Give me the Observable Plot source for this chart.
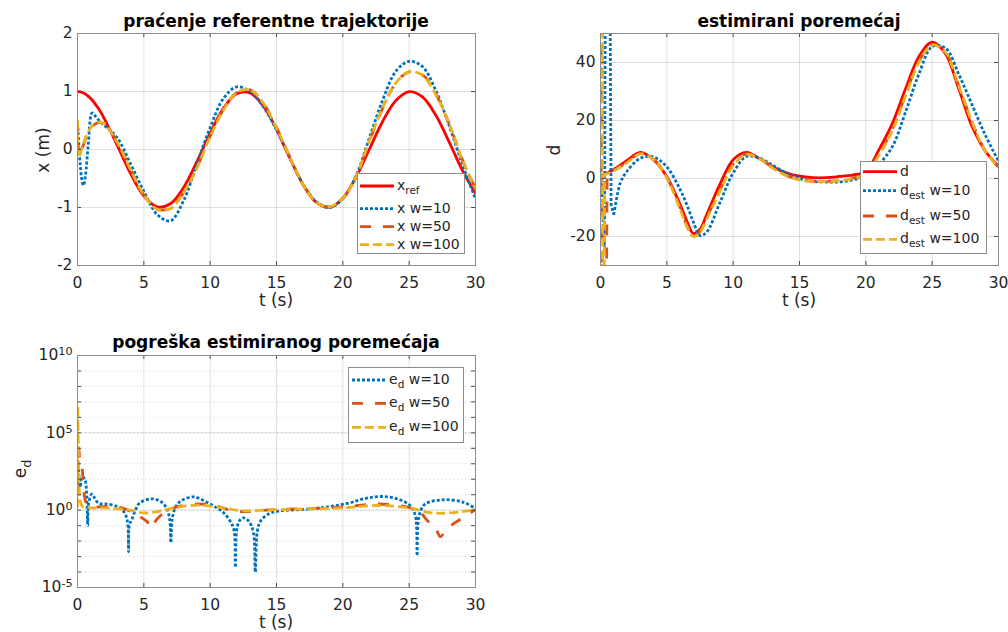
<!DOCTYPE html>
<html><head><meta charset="utf-8">
<script src="https://cdn.jsdelivr.net/npm/d3@7"></script>
<script src="https://cdn.jsdelivr.net/npm/@observablehq/plot@0.6"></script>
<style>
body{margin:0;background:#fff;}
#root{position:relative;width:1008px;height:632px;font-family:"DejaVu Sans",sans-serif;color:#262626;overflow:hidden;background:#fff}
.abs{position:absolute;white-space:nowrap}
.title{font-weight:bold;font-size:17px;color:#000;transform:translate(-50%,-50%)}
.lab{font-size:17px;transform:translate(-50%,-50%)}
.ylab{font-size:17px;transform:translate(-50%,-50%) rotate(-90deg)}
.legend{position:absolute;background:#fff;border:1px solid #8c8c8c;box-sizing:border-box}
.lt{position:absolute;font-size:14px;line-height:14px;white-space:nowrap;color:#262626}
sub{font-size:0.75em;vertical-align:-0.4em;line-height:0}
</style></head><body><div id="root"></div><script>
// ---------- data ----------
const tTicks = [0, 5, 10, 15, 20, 25, 30];

// panel 1: x tracking
const t1 = [0,0.05,0.1,0.2,0.3,0.45,0.6,0.8,1.1,1.4,1.7,2,3,4,5,6,7,8,9,10,11,12,13,14,15,16,17,18,19,20,21,22,23,24,25,26,27,28,29,30];
const xRef = [1,1.0,0.999,0.995,0.989,0.975,0.955,0.921,0.853,0.765,0.664,0.540,0.071,-0.416,-0.801,-0.990,-0.936,-0.654,-0.211,0.284,0.709,0.960,0.977,0.754,0.347,-0.146,-0.602,-0.911,-0.997,-0.839,-0.476,0.004,0.483,0.844,0.998,0.907,0.594,0.136,-0.355,-0.760];
const xW10 = [0.47,0.3,0.1,-0.25,-0.48,-0.62,-0.45,0.05,0.63,0.56,0.48,0.42,0.2,-0.25,-0.72,-1.12,-1.23,-0.88,-0.25,0.38,0.88,1.08,1.0,0.74,0.34,-0.14,-0.6,-0.9,-1.0,-0.85,-0.45,0.2,0.85,1.35,1.52,1.43,1.02,0.42,-0.25,-0.85];
const xW50 = [0.5,0.05,-0.12,-0.1,-0.02,0.08,0.18,0.28,0.4,0.45,0.47,0.45,0.13,-0.34,-0.78,-1.03,-1.01,-0.74,-0.31,0.23,0.69,0.98,1.03,0.8,0.38,-0.13,-0.6,-0.91,-0.99,-0.84,-0.47,0.14,0.71,1.15,1.34,1.29,0.96,0.45,-0.17,-0.67];
const xW100 = [0.5,-0.1,-0.14,-0.08,0.0,0.1,0.2,0.3,0.41,0.46,0.47,0.45,0.12,-0.35,-0.78,-1.03,-1.02,-0.74,-0.32,0.22,0.68,0.98,1.03,0.8,0.37,-0.13,-0.6,-0.91,-0.99,-0.84,-0.47,0.15,0.72,1.15,1.34,1.28,0.95,0.45,-0.18,-0.67];
const xTicksY = [-2, -1, 0, 1, 2];

// panel 2: disturbance
const t2 = [0,0.1,0.2,0.3,0.4,0.5,0.6,0.7,0.8,1,1.5,2,3,4,5,6,6.5,7,7.5,8,9,10,11,12,13,14,15,16,17,18,19,20,21,22,23,24,25,26,27,28,29,30];
const dRef = [1.0,1.2,1.4,1.6,1.7,1.9,2.1,2.4,2.6,3.1,4.6,6.2,9.0,6.5,0.6,-9,-14.6,-19,-17.5,-12.5,-2,6.5,9,6.8,4,2,0.8,0.3,0.3,0.7,1.2,2.5,10,19,31,42,47,43,31,18,9.5,4.2];
const dW10 = [5,-5,-15,-26,120,400,300,80,-9,-12.5,-1.5,2.5,7,7.4,4,-3.8,-9,-15,-19.7,-18.5,-8.3,1.9,7.6,7,4.5,1.8,0,-1,-1.2,-1.2,-0.5,1,5,11,23,36,45.5,45,36,25.5,15,6];
const dW50 = [300,-200,-300,-200,-80,1.5,1.8,2.0,2.3,2.8,4.1,5.6,8.6,6.6,0.3,-10,-16,-19.8,-18.3,-13.5,-4,5,8.5,6.9,3.6,1.1,-0.4,-0.9,-0.9,-0.7,0.1,1.6,8.5,17,29,40.5,46.2,43.5,32,19.5,9.5,3.9];
const dW100 = [400,600,-400,1.4,1.5,1.6,1.8,2.0,2.2,2.7,4.0,5.5,8.5,6.6,0.2,-10.5,-16.5,-20,-18.5,-14,-4.5,4.5,8.3,6.8,3.5,1,-0.5,-1,-1,-0.8,0,1.5,8.2,16.5,28.5,40,46,43.5,32,19.5,9.5,3.8];
const dTicksY = [-20, 0, 20, 40];

// panel 3: estimation error (log)
const tE10 = [0,0.05,0.2,0.35,0.55,0.7,0.77,0.85,1.08,1.3,1.6,2.2,3.0,3.4,3.65,3.8,3.85,3.9,4.1,4.4,4.7,5.6,6.3,6.7,6.95,7.04,7.13,7.4,7.8,8.75,9.75,10.5,11.0,11.5,11.8,11.9,12.0,12.2,12.5,12.9,13.25,13.4,13.55,13.8,14.5,15.3,17.8,20.3,21.8,23.1,24.3,25.1,25.45,25.55,25.6,25.65,25.8,26.2,27.6,29.1,30];
const eW10 = [10,630,30,150,100,8,0.1,3,11,6,2.7,2.5,1.7,1.0,0.45,0.1,0.0021,0.1,0.25,1.2,3.0,5.4,3.5,1.4,0.25,0.008,0.25,1.6,4,7.2,3.2,1.4,0.7,0.2,0.05,0.0002,0.05,0.2,0.32,0.2,0.04,0.0001,0.04,0.2,0.63,0.9,1.26,2.7,6,7.6,4.7,1.9,0.5,0.1,0.0011,0.1,0.63,2.5,4.7,3.2,1.26];
const tE50 = [0,0.03,0.1,0.2,0.33,0.45,0.6,0.8,1.5,2.5,3.5,4.3,4.9,5.3,5.55,5.8,6.2,6.8,7.5,9,10.5,11.5,12.5,13.5,15,17.5,20,22.5,24.5,25.7,26.4,26.97,27.35,27.72,28.4,29.1,30];
const eW50 = [10,1600,11000,1000,575,29,4,2,1.6,1.8,1.26,0.6,0.3,0.16,0.068,0.16,0.4,1.0,1.6,2.5,1.8,1.0,0.8,0.9,1.1,1.26,1.6,2.5,1.8,0.9,0.2,0.076,0.019,0.046,0.145,0.34,1.1];
const tE100 = [0,0.02,0.05,0.08,0.12,0.2,0.4,1,2,3,4,5,6,7,9,11,12.5,14,17,20,22.5,25,26.5,27.5,29,30];
const eW100 = [1.6,5.6e6,1e5,1000,32,4,1.6,1.4,1.4,1.26,1.0,0.66,0.8,1.26,2.1,1.4,0.9,1.0,1.2,1.4,2.0,1.4,0.7,0.63,0.8,1.15];
const eTicksY = [1e-5, 1, 1e5, 1e10];
const eTickLabels = ["10^-5", "10^0", "10^5", "10^10"];
const eDecades = [1e-5,1e-4,1e-3,1e-2,1e-1,1,1e1,1e2,1e3,1e4,1e5,1e6,1e7,1e8,1e9,1e10];

// ---------- styles ----------
const RED = "#ff0000", BLUE = "#0072bd", ORANGE = "#d95319", YELLOW = "#edb120";
const DASH = {solid: null, dot: "3,2", dash: "11,12", dashdot: "9,4"};
const NS = "http://www.w3.org/2000/svg";

const root = document.getElementById("root");
function addDiv(cls, html, x, y) {
  const d = document.createElement("div");
  d.className = "abs " + cls; d.innerHTML = html;
  d.style.left = x + "px"; d.style.top = y + "px";
  root.appendChild(d);
}
const rows = (t, v) => t.map((tt, i) => ({t: tt, v: v[i]}));

function panel(o) {
  const fw = o.width - o.ml - o.mr, fh = o.height - o.mt - o.mb;
  const tickCol = "#4d4d4d";
  const marks = [
    Plot.ruleX(o.xTicks, {x: d => d, stroke: "#000", strokeOpacity: 0.12}),
  ];
  if (o.yMinor) marks.push(Plot.ruleY(o.yMinor, {y: d => d, stroke: "#000", strokeOpacity: 0.18, strokeDasharray: "1,3"}));
  marks.push(Plot.ruleY(o.yTicks, {y: d => d, stroke: "#000", strokeOpacity: 0.12}));
  for (const s of o.series) {
    const data = rows(s.t, s.v);
    const style = {
      x: "t", y: "v", stroke: s.color, strokeWidth: 2.8,
      strokeDasharray: DASH[s.dash], strokeLinecap: "butt", strokeLinejoin: "round", clip: true
    };
    if (o.splitAt != null) {
      marks.push(Plot.line(data.filter(d => d.t <= o.splitAt), {...style, curve: "linear"}));
      marks.push(Plot.line(data.filter(d => d.t >= o.splitAt), {...style, curve: "catmull-rom"}));
    } else {
      marks.push(Plot.line(data, {...style, curve: "catmull-rom"}));
    }
  }
  const yt = o.yMinor || o.yTicks;
  marks.push(
    Plot.tickX(o.xTicks, {x: d => d, insetTop: fh - 4, stroke: tickCol}),
    Plot.tickX(o.xTicks, {x: d => d, insetBottom: fh - 4, stroke: tickCol}),
    Plot.tickY(yt, {y: d => d, insetRight: fw - 4, stroke: tickCol}),
    Plot.tickY(yt, {y: d => d, insetLeft: fw - 4, stroke: tickCol}),
    Plot.frame({stroke: "#8c8c8c"})
  );
  const svg = Plot.plot({
    width: o.width, height: o.height,
    marginLeft: o.ml, marginRight: o.mr, marginTop: o.mt, marginBottom: o.mb,
    style: {fontFamily: "DejaVu Sans", fontSize: "15.5px", color: "#262626", background: "transparent", overflow: "visible"},
    x: {domain: [0, 30], ticks: o.xTicks, tickSize: 0, tickPadding: 11, tickFormat: d => String(d), label: null},
    y: Object.assign({domain: o.yDomain, ticks: o.yTicks, tickSize: 0, tickPadding: 5, label: null, tickFormat: o.yFormat || (d => String(d))}, o.yType ? {type: o.yType} : {}),
    marks
  });
  // power-of-ten tick labels: raise the exponent
  svg.querySelectorAll("text").forEach(t => {
    const m = t.textContent.match(/^10\^(.+)$/);
    if (m) {
      t.textContent = "10";
      const ts = document.createElementNS(NS, "tspan");
      ts.setAttribute("dy", "-0.45em");
      ts.setAttribute("font-size", "0.72em");
      ts.textContent = m[1];
      t.appendChild(ts);
    }
  });
  svg.style.position = "absolute";
  svg.style.left = o.left + "px";
  svg.style.top = o.top + "px";
  svg.style.maxWidth = "none";
  root.appendChild(svg);
}

function legend(box, items) {
  const L = document.createElement("div");
  L.className = "legend";
  L.style.left = box.x + "px"; L.style.top = box.y + "px";
  L.style.width = box.w + "px"; L.style.height = box.h + "px";
  const s = document.createElementNS(NS, "svg");
  s.setAttribute("width", box.w); s.setAttribute("height", box.h);
  s.style.position = "absolute"; s.style.left = "-1px"; s.style.top = "-1px";
  for (const it of items) {
    const ln = document.createElementNS(NS, "line");
    ln.setAttribute("x1", box.lx1 - box.x); ln.setAttribute("x2", box.lx2 - box.x);
    ln.setAttribute("y1", it.y - box.y); ln.setAttribute("y2", it.y - box.y);
    ln.setAttribute("stroke", it.color); ln.setAttribute("stroke-width", 2.8);
    if (DASH[it.dash]) ln.setAttribute("stroke-dasharray", DASH[it.dash]);
    s.appendChild(ln);
    const t = document.createElement("div");
    t.className = "lt"; t.innerHTML = it.html;
    t.style.left = (box.tx - box.x - 1) + "px";
    t.style.top = (it.y - box.y - 9) + "px";
    L.appendChild(t);
  }
  L.insertBefore(s, L.firstChild);
  root.appendChild(L);
}

// ---------- panel 1 ----------
panel({left: 0, top: 0, width: 500, height: 310, ml: 77, mr: 25, mt: 33, mb: 45,
  xTicks: tTicks, yDomain: [-2, 2], yTicks: xTicksY,
  series: [
    {t: t1, v: xRef, color: RED, dash: "solid"},
    {t: t1, v: xW10, color: BLUE, dash: "dot"},
    {t: t1, v: xW50, color: ORANGE, dash: "dash"},
    {t: t1, v: xW100, color: YELLOW, dash: "dashdot"}
  ]});
addDiv("title", "praćenje referentne trajektorije", 276, 21);
addDiv("lab", "t (s)", 276, 300);
addDiv("ylab", "x (m)", 43, 150);
legend({x: 357, y: 173, w: 108, h: 81, lx1: 360, lx2: 394, tx: 397}, [
  {y: 186, color: RED, dash: "solid", html: "x<sub>ref</sub>"},
  {y: 208.7, color: BLUE, dash: "dot", html: "x w=10"},
  {y: 226.7, color: ORANGE, dash: "dash", html: "x w=50"},
  {y: 244.7, color: YELLOW, dash: "dashdot", html: "x w=100"}
]);

// ---------- panel 2 ----------
panel({left: 500, top: 0, width: 508, height: 310, ml: 100, mr: 10, mt: 33, mb: 45,
  xTicks: tTicks, yDomain: [-30, 50], yTicks: dTicksY, splitAt: 1,
  series: [
    {t: t2, v: dRef, color: RED, dash: "solid"},
    {t: t2, v: dW10, color: BLUE, dash: "dot"},
    {t: t2, v: dW50, color: ORANGE, dash: "dash"},
    {t: t2, v: dW100, color: YELLOW, dash: "dashdot"}
  ]});
addDiv("title", "estimirani poremećaj", 799, 21);
addDiv("lab", "t (s)", 799, 300);
addDiv("ylab", "d", 554, 150);
legend({x: 860, y: 161, w: 127, h: 93, lx1: 863, lx2: 897, tx: 900}, [
  {y: 171.7, color: RED, dash: "solid", html: "d"},
  {y: 190.7, color: BLUE, dash: "dot", html: "d<sub>est</sub> w=10"},
  {y: 216, color: ORANGE, dash: "dash", html: "d<sub>est</sub> w=50"},
  {y: 239.3, color: YELLOW, dash: "dashdot", html: "d<sub>est</sub> w=100"}
]);

// ---------- panel 3 ----------
panel({left: 0, top: 320, width: 500, height: 312, ml: 77, mr: 25, mt: 35, mb: 45,
  xTicks: tTicks, yDomain: [1e-5, 1e10], yType: "log", yTicks: eTicksY, yMinor: eDecades,
  yFormat: d => eTickLabels[eTicksY.indexOf(d)],
  series: [
    {t: tE10, v: eW10, color: BLUE, dash: "dot"},
    {t: tE50, v: eW50, color: ORANGE, dash: "dash"},
    {t: tE100, v: eW100, color: YELLOW, dash: "dashdot"}
  ]});
addDiv("title", "pogreška estimiranog poremećaja", 276, 342);
addDiv("lab", "t (s)", 276, 622);
addDiv("ylab", "e<sub>d</sub>", 20, 469);
legend({x: 348, y: 367, w: 116, h: 76, lx1: 352, lx2: 386, tx: 389}, [
  {y: 380, color: BLUE, dash: "dot", html: "e<sub>d</sub> w=10"},
  {y: 403.3, color: ORANGE, dash: "dash", html: "e<sub>d</sub> w=50"},
  {y: 427.3, color: YELLOW, dash: "dashdot", html: "e<sub>d</sub> w=100"}
]);
</script></body></html>
